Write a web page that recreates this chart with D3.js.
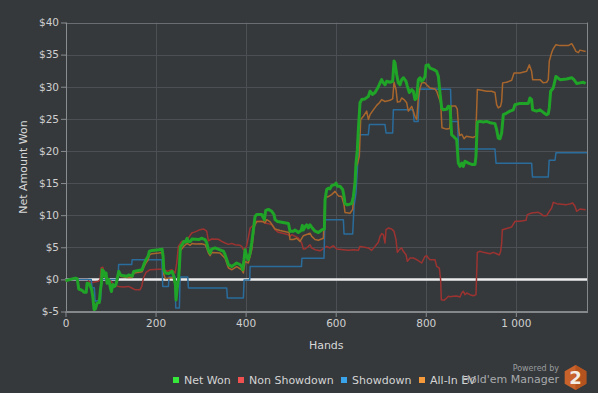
<!DOCTYPE html>
<html>
<head>
<meta charset="utf-8">
<script src="https://cdn.jsdelivr.net/npm/d3@7"></script>
<style>
    html, body { margin: 0; padding: 0; background: #35393c; }
    svg { display: block; font-family: "DejaVu Sans", Verdana, sans-serif; }
</style>
</head>
<body>
<svg id="chart" width="598" height="393"></svg>
<script>

// series values, [hand, dollars]
var netWon = [[0,-0.2],[22,0.2],[26,0.1],[29.5,-1.5],[37,-1.7],[41,-2.0],[46,-2.0],[48,-0.6],[53,-0.7],[58,-1.6],[60.5,-2.6],[63.5,-4.7],[66.5,-4.6],[70,-3.7],[75,-3.6],[77.6,-1.6],[79.8,-0.6],[81.3,1.5],[85,1.25],[87,0.5],[90,1.0],[92.4,-0.6],[96,0],[99.7,-1.3],[102,-1.9],[105,-0.8],[109,-1.1],[112,-0.8],[114.6,0],[118.3,1.25],[122,0.7],[126,0.6],[137,0.5],[140.5,0.7],[148,0.5],[151.6,1.25],[170,1.5],[173.8,2.3],[178.9,3.1],[183.4,3.6],[186.3,4.4],[192.3,4.5],[207,4.6],[214.5,4.7],[216.7,3.6],[218.2,1.5],[221.8,1.0],[229.3,0.9],[232.9,1.1],[236.7,1.25],[240.4,0.5],[244,-0.8],[245.5,-3.2],[247.8,-1.6],[251.5,0.5],[252.9,2.0],[255.1,5.1],[258.9,5.4],[262.6,5.9],[266.2,5.8],[270,6.4],[272.2,5.9],[277.3,5.9],[281,6.3],[296,6.2],[302,6.4],[310,6.2],[313.6,5.7],[317.3,4.6],[321,4.1],[324.7,4.7],[332,4.9],[343,4.6],[350.6,4.4],[354.3,3.85],[358,3.1],[361.7,2.3],[369,2.0],[375,2.3],[380,2.55],[387.6,2.3],[391.3,2.0],[393.5,1.5],[396.5,3.1],[398.7,4.6],[402.4,3.6],[406,3.1],[409.8,4.1],[413.5,5.7],[417.2,7.7],[420.9,9.8],[424.6,10.1],[435.7,10.1],[439.4,9.6],[441.6,9.3],[444.6,10.75],[450.5,10.9],[457.9,10.6],[463,10.1],[465.3,9.3],[471,9.0],[480,8.9],[495,8.7],[498.6,7.5],[506,7.5],[509.7,7.7],[517,7.3],[523,7.6],[526,8.4],[528,7.7],[532,8.2],[535.6,8.5],[539.3,8.0],[543,8.5],[548,8.0],[554,7.5],[561.5,7.3],[569,7.7],[574.8,7.85],[576.3,12.4],[580,14.0],[583.7,14.2],[587.4,14.1],[591,14.6],[598.5,14.75],[600.7,15.0],[603.7,14.5],[609.6,14.5],[615.5,14.0],[618.5,12.9],[620.7,11.8],[625.9,11.6],[635.5,11.8],[639.2,12.9],[642.9,15.0],[645.1,18.1],[648.1,20.2],[650.3,23.3],[654,27.5],[657.7,28.0],[665,28.1],[672.5,28.5],[676.2,29.3],[682,28.8],[687.3,29.1],[694.7,30.0],[698.4,30.6],[702,31.1],[705.8,30.6],[709.5,30.3],[713.2,30.85],[720.6,30.7],[726.5,30.85],[729.5,34.0],[731.7,33.7],[735.4,31.9],[739,30.6],[742.8,30.3],[746.5,31.1],[750.2,31.4],[756,30.85],[759,30.1],[763.5,29.1],[768.7,29.55],[772.4,29.3],[776,28.0],[779.8,28.25],[783.5,31.1],[787.2,31.4],[791,30.85],[794.6,31.1],[798.3,31.6],[800.5,33.3],[805.7,33.4],[809.4,32.9],[816.8,32.7],[824,32.4],[828,31.6],[831.6,29.0],[835.3,26.7],[839,26.4],[846.4,26.5],[850,26.95],[853.8,26.9],[857.5,22.5],[861,22.3],[865,22.0],[868.6,21.8],[872.3,18.1],[876,17.6],[879.7,18.1],[883.4,17.6],[887,18.4],[894.5,18.1],[902,17.9],[909.3,17.9],[911.5,19.2],[914.5,24.5],[920.4,24.6],[927.8,24.5],[935,24.6],[942.6,24.4],[953.7,24.25],[957.4,23.3],[961,22.0],[964.8,21.9],[968.5,22.8],[972.2,25.65],[979.6,25.9],[987,26.2],[994.4,26.4],[998,27.2],[1009,27.4],[1027.7,27.4],[1031.4,28.25],[1035,28.0],[1037.3,26.4],[1046,26.2],[1053.6,26.4],[1061,26.0],[1068.4,25.65],[1072,25.8],[1074.3,26.7],[1077.3,29.3],[1083,29.8],[1089,31.6],[1098,31.1],[1112.8,31.2],[1124,31.4],[1129,31.1],[1135,30.5],[1142.4,30.6],[1149.8,30.7],[1155,30.5]];

var nonShowdown = [[0,0],[50,0],[54.6,-0.57],[73,-0.3],[76.8,0],[79,1.77],[82.7,1.92],[86.4,1.0],[91.6,-0.57],[99,-0.05],[106.4,-0.83],[117.5,-1.09],[128.6,-1.19],[139.7,-1.09],[147.1,-1.34],[154.5,-1.6],[165.6,-1.6],[169.3,-1.09],[173,0.21],[178.9,1.1],[187.8,1.51],[217.4,1.62],[224.8,1.25],[235.9,1.51],[243.3,0.99],[247,2.55],[250.7,5.14],[258.1,5.92],[269.2,6.08],[280.3,7.22],[287.7,7.4],[298.8,7.74],[306.2,7.85],[313.6,7.5],[317.3,6.0],[324.7,6.29],[339.5,6.25],[346.9,5.92],[354.3,5.66],[361.7,5.45],[369.1,5.6],[376.5,5.4],[387.6,5.3],[391.3,5.14],[395,4.63],[398.7,4.73],[402,5.2],[406,6.5],[410,8.0],[417.2,8.4],[420.9,9.0],[435.7,9.04],[443.1,8.78],[450.5,8.68],[457.9,8.52],[465.3,7.74],[472.7,7.33],[480.1,7.22],[494.9,6.96],[498.6,6.7],[502.3,6.96],[517.1,6.44],[524.5,5.66],[528.2,4.73],[531.9,4.73],[539.3,5.14],[543,5.4],[546.7,4.89],[554.1,4.63],[565.2,4.45],[572.6,4.8],[580,5.14],[587.4,4.89],[594.8,5.25],[602.2,4.73],[617,4.63],[628.1,4.52],[639.2,4.63],[650.3,4.52],[654,5.14],[661.4,5.04],[672.5,4.89],[679.9,4.52],[687.3,5.14],[694.7,5.77],[698.4,6.7],[702.1,7.12],[705.8,6.96],[709.5,5.66],[711.7,7.74],[716.9,8.0],[724.3,7.85],[729.5,7.48],[733.9,6.18],[736.9,4.21],[741.3,4.63],[746.5,4.89],[750.2,4.37],[756.1,3.85],[759.1,2.81],[765,3.33],[772.4,3.33],[779.8,3.07],[785.7,2.81],[790.9,2.55],[798.3,3.59],[802,3.69],[805.7,3.33],[809.4,3.07],[820.5,3.07],[824.2,2.03],[830.1,1.77],[833,-0.05],[834.5,-3.16],[840.4,-3.26],[846.4,-2.9],[850.1,-2.64],[853.8,-2.7],[861.2,-2.64],[868.6,-2.6],[876,-2.75],[879.7,-2.12],[883.4,-1.86],[887.1,-2.38],[890.8,-2.12],[898.2,-2.38],[905.6,-2.54],[911.5,-2.38],[914.5,4.21],[920.4,4.37],[927.8,4.21],[935.2,4.11],[942.6,4.0],[950,4.21],[957.4,4.0],[963.3,3.8],[966.3,4.37],[968.5,5.66],[970,7.74],[975.9,7.85],[983.3,8.0],[990.7,8.16],[995.9,8.78],[998.1,9.04],[1009.2,9.04],[1022.5,9.2],[1025.5,10.08],[1035.1,10.34],[1049.9,10.44],[1055.1,10.23],[1061,9.92],[1068.4,9.92],[1074.3,10.6],[1079.5,11.12],[1083.2,12.0],[1090.6,11.79],[1112.8,11.64],[1121.7,11.79],[1126.1,11.9],[1131.3,11.38],[1135,10.6],[1142.4,10.96],[1155,10.86]];

var showdown = [[0,0],[57,0],[59,-1.3],[64,-1.3],[65.7,-3.4],[78,-3.2],[80,0],[117,0],[118,2.3],[147,2.3],[148,3.07],[214,3.07],[216,-1.1],[228.5,-1.1],[230,0.37],[243.3,0.37],[244.8,-4.46],[252.9,-4.46],[254.4,0.37],[271.5,0.37],[272.9,-1.35],[358,-1.35],[359.4,-2.9],[395,-2.9],[396.5,-0.1],[409,-0.1],[410,2.0],[524,2.0],[525,3.3],[574,3.3],[576,9.3],[617,9.3],[618.5,7.07],[637.7,7.07],[640.7,11.4],[645,13.45],[652.5,22.54],[672.5,22.54],[674.7,24.1],[709.5,24.1],[711.7,22.8],[726.5,22.8],[728,26.43],[772,26.4],[774,24.6],[783,24.6],[785.7,29.65],[855,29.6],[857,24.6],[871,24.6],[872.5,20.3],[953.7,20.3],[956,18.1],[1035,18.1],[1037,15.95],[1072,15.95],[1074,18.55],[1087,18.55],[1089,19.7],[1158,19.7]];

var allInEv = [[0,-0.2],[22,0.2],[26,0.1],[29.5,-1.5],[41,-2.0],[46,-2.0],[48,-0.6],[53,-0.7],[58,-1.6],[60.5,-2.6],[63.5,-4.7],[66.5,-4.6],[70,-3.7],[75,-3.6],[77.6,-1.6],[80,-0.6],[81.3,1.3],[85,1.0],[87,0.4],[90,0.8],[92.4,-0.6],[96,-0.1],[100,-1.3],[102,-1.9],[105,-0.9],[112,-0.9],[115,-0.1],[118.3,1.0],[122,0.5],[137,0.3],[148,0.3],[152,1.0],[170,1.2],[174,1.9],[179,2.6],[183.4,3.0],[186.3,3.8],[192,4.0],[207,4.1],[214.5,4.2],[216.7,3.2],[218.2,0.8],[222,0.1],[237,0.3],[240.4,0.1],[244,-1.0],[245.5,-3.0],[247.8,-1.6],[251.5,0.3],[253,1.6],[255,4.5],[259,4.8],[263,5.2],[270,5.6],[277,5.3],[281,5.6],[288,5.5],[302,5.56],[310,5.4],[313.6,4.9],[317.3,4.1],[321,3.7],[324.7,4.2],[343,4.1],[354.3,3.3],[361.7,1.8],[369,1.5],[380,2.0],[391.3,1.5],[395,1.0],[398.7,2.8],[406,2.55],[413.5,4.6],[419.4,8.3],[424.6,9.0],[439.4,9.0],[443,8.8],[446.8,9.3],[454,9.0],[465.3,7.85],[476.4,7.6],[496.4,7.3],[498.6,6.2],[506,6.2],[513.4,6.4],[520.8,5.9],[528.2,6.8],[535.6,7.0],[543,7.2],[546.7,6.7],[554,6.2],[561.5,6.1],[572.6,6.4],[576.3,12.7],[583.7,12.9],[591,13.2],[598.5,13.7],[605.9,13.0],[613.3,12.9],[618.5,11.6],[620.7,10.4],[631.8,10.3],[637.7,10.9],[640.7,14.0],[645.1,17.6],[648,17.9],[652.5,19.2],[655.5,24.9],[661.4,25.4],[668.8,26.2],[672.5,24.9],[676.2,25.65],[683.6,26.4],[691,27.1],[697,27.5],[702,28.0],[709.5,27.7],[720.6,27.9],[726.5,28.1],[729.5,30.7],[734,29.55],[737,27.6],[742.8,27.7],[746.5,28.25],[751.7,28.0],[757.6,27.5],[761.3,26.2],[768.7,26.95],[776,25.4],[779.8,24.9],[783.5,28.25],[787.2,29.8],[791,30.6],[798.3,30.6],[802,30.3],[809.4,29.8],[820.5,29.65],[824.2,29.3],[828,28.5],[833,27.5],[836,23.6],[846,23.4],[853,23.5],[857,27.0],[866,27.0],[870,26.5],[873,23.5],[875,22.4],[880,22.6],[885,21.9],[890,22.3],[905,22.1],[911,22.3],[914.5,29.55],[924,29.45],[935,29.3],[946,29.3],[953.7,29.1],[957.4,27.2],[961,26.7],[966,26.95],[968.5,27.7],[970.7,30.6],[979.6,30.7],[990.7,31.0],[996,32.15],[1009,32.15],[1024,32.4],[1030,33.4],[1035,32.4],[1037.3,31.1],[1053.6,31.1],[1061,30.6],[1068.4,30.7],[1072,31.1],[1074.3,34.0],[1079.5,35.3],[1083,35.9],[1089,36.55],[1098,36.4],[1116.5,36.4],[1124,36.7],[1127.6,36.3],[1133.5,35.5],[1138.7,35.3],[1142.4,35.7],[1155,35.5]];

var seriesNames = ["Net Won", "Non Showdown", "Showdown", "All-In EV"];
var xTicks = [0, 200, 400, 600, 800, 1000];
var yTicks = [-5, 0, 5, 10, 15, 20, 25, 30, 35, 40];
var xMax = 1158;

var svg = d3.select("#chart");

var plot = {left: 65.5, right: 587, top: 22.5, bottom: 311.5};

var x = d3.scaleLinear().domain([0, xMax]).range([plot.left, plot.right]);
var y = d3.scaleLinear().domain([-5, 40]).range([plot.bottom, plot.top]);

// grid lines
svg.append("g").selectAll("line").data(yTicks).enter().append("line")
    .attr("x1", plot.left).attr("x2", plot.right)
    .attr("y1", function (d) { return Math.round(y(d)) + 0.5; })
    .attr("y2", function (d) { return Math.round(y(d)) + 0.5; })
    .style("stroke", "#4c5054").style("stroke-width", 1);

svg.append("g").selectAll("line").data(xTicks.slice(1)).enter().append("line")
    .attr("x1", function (d) { return Math.round(x(d)) + 0.5; })
    .attr("x2", function (d) { return Math.round(x(d)) + 0.5; })
    .attr("y1", plot.top).attr("y2", plot.bottom)
    .style("stroke", "#4c5054").style("stroke-width", 1);

// plot border (top + right)
svg.append("line").attr("x1", plot.left).attr("x2", plot.right).attr("y1", Math.round(plot.top) + 0.5).attr("y2", Math.round(plot.top) + 0.5)
    .style("stroke", "#6a6d71");
svg.append("line").attr("x1", Math.round(plot.right) + 0.5).attr("x2", Math.round(plot.right) + 0.5).attr("y1", plot.top).attr("y2", plot.bottom)
    .style("stroke", "#85888b");

// axes
var yAxis = d3.axisLeft(y).tickValues(yTicks).tickSize(5).tickPadding(2)
    .tickFormat(function (d) { return "$" + d; });
var gy = svg.append("g").attr("transform", "translate(" + Math.round(plot.left) + ",0)").call(yAxis);

var xAxis = d3.axisBottom(x).tickValues(xTicks).tickSize(5).tickPadding(3)
    .tickFormat(function (d) { return d3.format(",")(d).replace(",", " "); });
var gx = svg.append("g").attr("transform", "translate(0," + Math.round(plot.bottom) + ")").call(xAxis);

[gx, gy].forEach(function (g) {
    g.select(".domain").remove();
    g.selectAll("line").style("stroke", "#8a8d90");
    g.selectAll("text").style("fill", "#d0d0d0").style("font-size", "10.5px")
        .style("font-family", "'DejaVu Sans', Verdana, sans-serif");
});

svg.append("line").attr("x1", Math.round(plot.left) + 0.5).attr("x2", Math.round(plot.left) + 0.5)
    .attr("y1", plot.top).attr("y2", plot.bottom).style("stroke", "#8a8d90");
svg.append("line").attr("x1", plot.left).attr("x2", plot.right + 1)
    .attr("y1", plot.bottom + 0.5).attr("y2", plot.bottom + 0.5)
    .style("stroke", "#85888b").style("stroke-width", 2);

// zero line
svg.append("line").attr("x1", plot.left).attr("x2", plot.right)
    .attr("y1", y(0)).attr("y2", y(0))
    .style("stroke", "#ececec").style("stroke-width", 2.5);

// series lines
var line = d3.line()
    .x(function (d) { return x(d[0]); })
    .y(function (d) { return y(d[1]); });

var series = [
    {data: nonShowdown, color: "#9c3331", width: 1.5},
    {data: showdown, color: "#2a6c9c", width: 1.5},
    {data: allInEv, color: "#a8662c", width: 1.5},
    {data: netWon, color: "#20a428", width: 3}
];

svg.append("g").selectAll("path").data(series).enter().append("path")
    .attr("d", function (d) { return line(d.data); })
    .style("fill", "none")
    .style("stroke", function (d) { return d.color; })
    .style("stroke-width", function (d) { return d.width; })
    .style("stroke-linejoin", "round");

// axis titles
svg.append("text").attr("x", (plot.left + plot.right) / 2).attr("y", 349)
    .attr("text-anchor", "middle").style("fill", "#d8d8d8").style("font-size", "11px")
    .text("Hands");
svg.append("text").attr("transform", "translate(27," + ((plot.top + plot.bottom) / 2) + ") rotate(-90)")
    .attr("text-anchor", "middle").style("fill", "#d8d8d8").style("font-size", "11px")
    .text("Net Amount Won");

// legend
var legendColors = ["#35e83a", "#f0504f", "#3aa4ea", "#f49a3a"];
var legendX = [173, 238, 341, 419];
var legend = svg.append("g").selectAll("g").data(seriesNames).enter().append("g")
    .attr("transform", function (d, i) { return "translate(" + legendX[i] + ",0)"; });
legend.append("rect").attr("x", 0).attr("y", 377).attr("width", 6).attr("height", 6)
    .style("fill", function (d, i) { return legendColors[i]; });
legend.append("text").attr("x", 11).attr("y", 384)
    .style("fill", "#d4d4d4").style("font-size", "11px")
    .text(function (d) { return d; });

// powered by logo
svg.append("text").attr("x", 559).attr("y", 371).attr("text-anchor", "end")
    .style("fill", "#9a9c9e").style("font-size", "8px").text("Powered by");
svg.append("text").attr("x", 559).attr("y", 383).attr("text-anchor", "end")
    .style("fill", "#a8aaac").style("font-size", "11px").text("Hold'em Manager");

var hexR = 12.5, hcx = 575.5, hcy = 377.5;
var hex = d3.range(6).map(function (i) {
    var a = Math.PI / 3 * i - Math.PI / 2;
    return [hcx + hexR * Math.cos(a), hcy + hexR * Math.sin(a)];
});
svg.append("polygon").attr("points", hex.map(function (p) { return p.join(","); }).join(" "))
    .style("fill", "#c9622b");
svg.append("polygon")
    .attr("points", [[hcx, hcy - hexR], hex[1], hex[2], [hcx, hcy + hexR]].map(function (p) { return p.join(","); }).join(" "))
    .style("fill", "#b5531f");
svg.append("text").attr("x", hcx).attr("y", hcy + 6.5).attr("text-anchor", "middle")
    .style("fill", "#f3ece4").style("font-size", "18px").style("font-weight", "bold")
    .text("2");

</script>
</body>
</html>
